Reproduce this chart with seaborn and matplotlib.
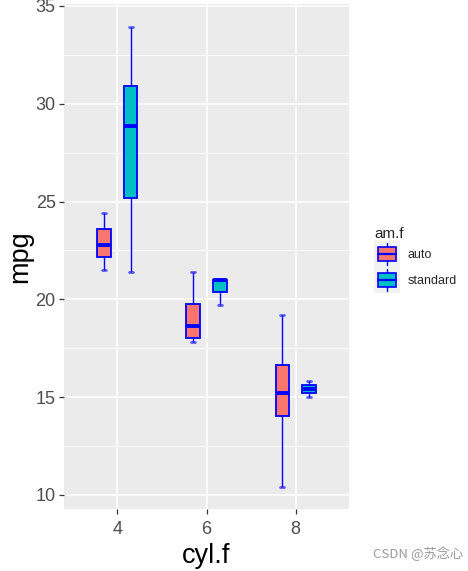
import numpy as np
import pandas as pd
import seaborn as sns
import matplotlib.pyplot as plt
from matplotlib.ticker import MultipleLocator
from matplotlib.legend_handler import HandlerBase
from matplotlib.patches import Rectangle
from matplotlib.lines import Line2D

# ---- data (mpg values per cylinder / transmission group) ----
cyl_levels = ["4", "6", "8"]
am_levels = ["auto", "standard"]
mpg_4_auto = [24.4, 22.8, 21.5]
mpg_4_standard = [22.8, 32.4, 30.4, 33.9, 27.3, 26.0, 30.4, 21.4]
mpg_6_auto = [21.4, 18.1, 19.2, 17.8]
mpg_6_standard = [21.0, 21.0, 19.7]
mpg_8_auto = [18.7, 14.3, 16.4, 17.3, 15.2, 10.4, 10.4, 14.7, 15.5, 15.2, 13.3, 19.2]
mpg_8_standard = [15.8, 15.0]
y_ticks = [10, 15, 20, 25, 30, 35]
fill_colors = ["#F8766D", "#00BFC4"]

groups = {
    ("4", "auto"): mpg_4_auto,
    ("4", "standard"): mpg_4_standard,
    ("6", "auto"): mpg_6_auto,
    ("6", "standard"): mpg_6_standard,
    ("8", "auto"): mpg_8_auto,
    ("8", "standard"): mpg_8_standard,
}
rows = []
for (c, a), vals in groups.items():
    for v in vals:
        rows.append({"cyl.f": c, "am.f": a, "mpg": v})
df = pd.DataFrame(rows)

sns.set_theme(style="darkgrid", rc={
    "axes.facecolor": "#EBEBEB",
    "grid.color": "white",
    "figure.facecolor": "white",
})
plt.rcParams["font.family"] = ["Liberation Sans", "DejaVu Sans"]

fig = plt.figure(figsize=(4.68, 5.71), dpi=100)
ax = fig.add_axes([64 / 468, 1 - 509 / 571, 285 / 468, 505 / 571])

sns.boxplot(
    data=df, x="cyl.f", y="mpg", hue="am.f",
    order=cyl_levels, hue_order=am_levels,
    palette=fill_colors, saturation=1, width=0.6, gap=0.5,
    linecolor="blue", linewidth=1.3,
    medianprops=dict(linewidth=2.8, color="blue"),
    whiskerprops=dict(linewidth=1.0),
    ax=ax,
)

# narrower, lighter whisker caps
for ln in ax.lines:
    xd = np.asarray(ln.get_xdata(), dtype=float)
    yd = np.asarray(ln.get_ydata(), dtype=float)
    if len(xd) == 2 and yd[0] == yd[1]:
        w = abs(xd[1] - xd[0])
        if 0.05 < w < 0.1:
            c = xd.mean()
            ln.set_xdata([c - 0.021, c + 0.021])
            ln.set_alpha(0.6)
            ln.set_linewidth(2.0)

ax.set_xlim(-0.6, 2.6)
ax.set_ylim(9.28, 35.1)
ax.set_yticks(y_ticks)
ax.yaxis.set_minor_locator(MultipleLocator(2.5))
ax.grid(which="major", color="white", linewidth=1.1)
ax.grid(which="minor", axis="y", color="white", linewidth=0.6)
ax.set_axisbelow(True)
for s in ax.spines.values():
    s.set_visible(False)

ax.tick_params(axis="both", which="major", bottom=True, left=True,
               length=3.5, width=0.9, color="#333333",
               labelsize=13, labelcolor="#4D4D4D", pad=2.5)
ax.tick_params(axis="x", which="major", pad=5)
ax.tick_params(axis="y", which="minor", left=False)
ax.set_xlabel("cyl.f", fontsize=19.5, color="black", labelpad=4)
ax.set_ylabel("mpg", fontsize=19.5, color="black", labelpad=2)


class BoxKey(HandlerBase):
    def create_artists(self, legend, orig_handle, xdescent, ydescent,
                       width, height, fontsize, trans):
        fc = orig_handle.get_facecolor()
        x0, y0 = -xdescent, -ydescent
        bg = Rectangle((x0, y0), width, height, facecolor="#F2F2F2",
                       edgecolor="none", transform=trans)
        wh = Line2D([x0 + width / 2] * 2, [y0 + 0.08 * height, y0 + 0.92 * height],
                    color="blue", lw=1.0, transform=trans)
        box = Rectangle((x0 + 0.15 * width, y0 + 0.23 * height),
                        0.7 * width, 0.54 * height, facecolor=fc,
                        edgecolor="blue", lw=1.2, transform=trans)
        med = Line2D([x0 + 0.15 * width, x0 + 0.85 * width],
                     [y0 + height / 2] * 2, color="blue", lw=1.6,
                     transform=trans)
        return [bg, wh, box, med]


handles, labels = ax.get_legend_handles_labels()
ax.get_legend().remove()
leg = ax.legend(handles, labels, title="am.f", loc="center left",
                bbox_to_anchor=(1.0, 0.493), frameon=False, fontsize=9,
                title_fontsize=11, handlelength=2.08, handleheight=2.82,
                labelspacing=0.0, handletextpad=0.64, borderaxespad=1.6,
                alignment="left",
                handler_map={type(handles[0]): BoxKey()})

fig.text(0.893, 0.031, "CSDN @苏念心", ha="center", va="center",
         fontsize=9.5, color="#9A9A9A",
         family=["Noto Sans CJK SC", "DejaVu Sans"])

fig.savefig("out.png", dpi=100)
